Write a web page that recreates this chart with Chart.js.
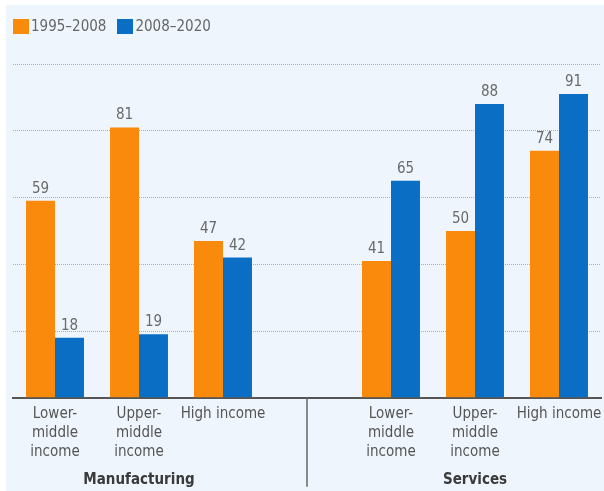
<!DOCTYPE html>
<html>
<head>
<meta charset="utf-8">
<script src="https://cdn.jsdelivr.net/npm/chart.js@4.4.1/dist/chart.umd.min.js"></script>
<style>
  html, body { margin: 0; padding: 0; background: #fff; }
  #panel {
    position: absolute; left: 6px; top: 5px; width: 598px; height: 486px;
    background: #eef5fc;
  }
  #chartWrap { position: absolute; left: 0; top: 0; width: 598px; height: 486px; }
  #legend {
    position: absolute; left: 7px; top: 12px;
    font: 15px "DejaVu Sans Condensed", "Liberation Sans", sans-serif;
    color: #666; display: flex; align-items: center;
  }
  .lg-item { display: flex; align-items: center; margin-right: 11px; }
  .lg-box { width: 16px; height: 15px; margin-right: 2px; }
</style>
</head>
<body>
<div id="panel">
  <div id="chartWrap"><canvas id="chartIncome"></canvas></div>
  <div id="legend"></div>
</div>
<script>
// categorías: tres grupos por sector, con un hueco en medio
const categories = [
  ["Lower-", "middle", "income"],
  ["Upper-", "middle", "income"],
  "High income",
  "",
  ["Lower-", "middle", "income"],
  ["Upper-", "middle", "income"],
  "High income",
];
const sectors = ["Manufacturing", "Services"];
const period1Label = "1995\u20132008";
const period2Label = "2008\u20132020";
const period1 = [59, 81, 47, null, 41, 50, 74];
const period2 = [18, 19, 42, null, 65, 88, 91];
const yTicks = [0, 20, 40, 60, 80, 100];

const FONT = '"DejaVu Sans Condensed", "Liberation Sans", sans-serif';
const ORANGE = "#f98a0c";
const BLUE = "#0a6fc4";

// etiquetas de valor encima de cada barra
const valueLabels = {
  id: "valueLabels",
  afterDatasetsDraw(chart) {
    const ctx = chart.ctx;
    ctx.save();
    ctx.font = "15px " + FONT;
    ctx.fillStyle = "#6a6a6a";
    ctx.textAlign = "center";
    ctx.textBaseline = "alphabetic";
    chart.data.datasets.forEach((ds, i) => {
      chart.getDatasetMeta(i).data.forEach((bar, j) => {
        const v = ds.data[j];
        if (v == null) return;
        ctx.fillText(String(v), bar.x, bar.y - 8);
      });
    });
    ctx.restore();
  },
};

// nombre del sector y separador vertical bajo el eje
const sectorLabels = {
  id: "sectorLabels",
  afterDraw(chart) {
    const ctx = chart.ctx;
    const x = chart.scales.x;
    const bottom = chart.chartArea.bottom;
    ctx.save();
    ctx.strokeStyle = "#666";
    ctx.lineWidth = 1.5;
    const xs = x.getPixelForValue(3);
    ctx.beginPath();
    ctx.moveTo(xs, bottom);
    ctx.lineTo(xs, bottom + 89);
    ctx.stroke();

    ctx.font = "bold 15px " + FONT;
    ctx.fillStyle = "#3a3a3a";
    ctx.textAlign = "center";
    ctx.textBaseline = "alphabetic";
    ctx.fillText(sectors[0], x.getPixelForValue(1), bottom + 86);
    ctx.fillText(sectors[1], x.getPixelForValue(5), bottom + 86);
    ctx.restore();
  },
};

const chart = new Chart(document.getElementById("chartIncome"), {
  type: "bar",
  data: {
    labels: categories,
    datasets: [
      { label: period1Label, data: period1, backgroundColor: ORANGE },
      { label: period2Label, data: period2, backgroundColor: BLUE },
    ],
  },
  options: {
    responsive: true,
    maintainAspectRatio: false,
    animation: false,
    datasets: { bar: { categoryPercentage: 0.69, barPercentage: 1 } },
    layout: { padding: { top: 59, left: 7, right: 3, bottom: 23 } },
    plugins: {
      legend: { display: false },
      tooltip: { enabled: false },
    },
    scales: {
      x: {
        // sin margen extra por el ancho de las etiquetas extremas
        afterFit: (s) => { s.paddingLeft = 0; s.paddingRight = 0; },
        grid: { display: false, drawTicks: false },
        border: { color: "#555", width: 2 },
        ticks: {
          color: "#555",
          font: { family: FONT, size: 15, lineHeight: 1.25 },
          padding: 7,
          maxRotation: 0,
          autoSkip: false,
        },
      },
      y: {
        min: yTicks[0],
        max: yTicks[yTicks.length - 1],
        afterBuildTicks: (axis) => { axis.ticks = yTicks.map((v) => ({ value: v })); },
        ticks: { display: false },
        border: { display: false, dash: [1, 1] },
        grid: {
          drawTicks: false,
          color: (c) => (c.tick && c.tick.value === 0 ? "transparent" : "#a9aeb5"),
          lineWidth: 1,
        },
      },
    },
  },
  plugins: [valueLabels, sectorLabels],
});

// leyenda en HTML a partir de los datasets
document.getElementById("legend").innerHTML = chart.data.datasets
  .map((ds) => `<span class="lg-item"><span class="lg-box" style="background:${ds.backgroundColor}"></span>${ds.label}</span>`)
  .join("");
</script>
</body>
</html>
